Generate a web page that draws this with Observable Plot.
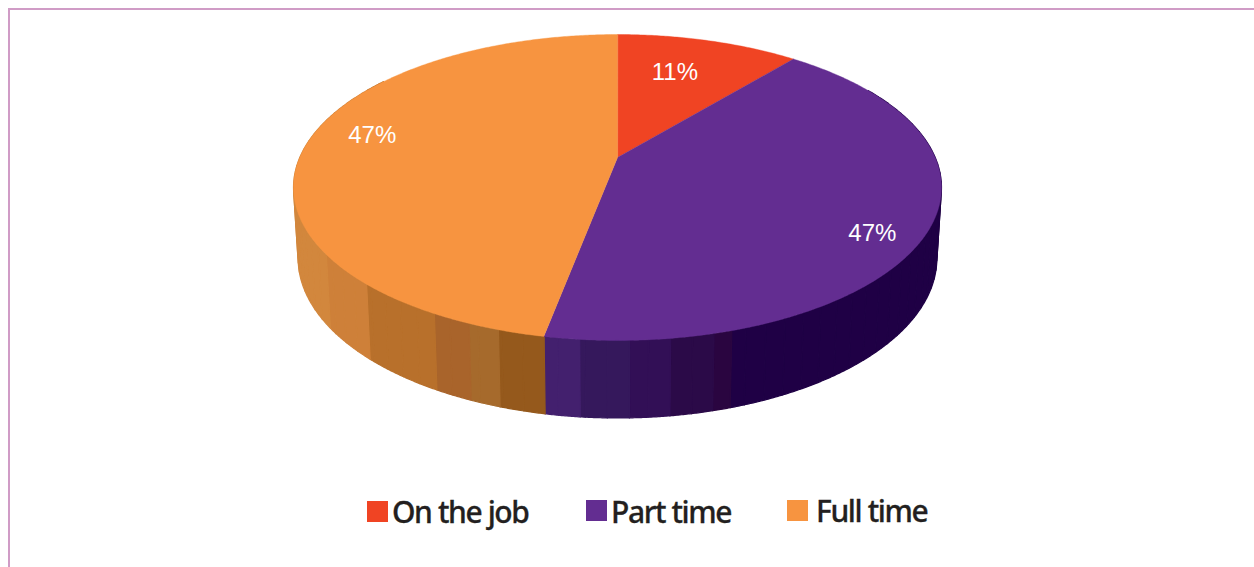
<!DOCTYPE html>
<html>
<head>
<meta charset="utf-8">
<script src="https://cdn.jsdelivr.net/npm/d3@7"></script>
<script src="https://cdn.jsdelivr.net/npm/@observablehq/plot@0.6"></script>
<style>
html,body{margin:0;padding:0;background:#fff}
#page{position:relative;width:1254px;height:567px;overflow:hidden;background:#fff}
#frame{position:absolute;left:8px;top:8px;width:1300px;height:600px;border-left:2px solid #d09cc6;border-top:2px solid #d09cc6}
#chart{position:absolute;left:0;top:0}
#legend{position:absolute;left:0;top:480px;width:1254px;height:87px;font-family:"Noto Sans",sans-serif;font-weight:500;font-size:30px;letter-spacing:-1.4px;color:#231f20;-webkit-text-stroke:.3px #231f20}
.swatch{position:absolute;width:21px;height:21px}
.name{position:absolute;white-space:nowrap;line-height:40px}
</style>
</head>
<body>
<div id="page"><div id="frame"></div><div id="chart"></div><div id="legend"></div></div>
<script>
// Data
const categories = ["On the job", "Part time", "Full time"];
const sliceValues = [11, 42, 47];
const sliceLabels = ["11%", "47%", "47%"];
const topColors = ["#f04423", "#632d91", "#f79440"];

// Shading of the rim, left to right
const rimEdges = [330, 370, 437, 472, 500, 545, 580, 630, 670, 713, 730];
const rimShades = ["#d2873d", "#ce8039", "#b8702b", "#a9642b", "#a66a2c", "#95591c",
                   "#43206e", "#35185c", "#320f56", "#2b0a48", "#2a0540", "#1f0045"];

// Perspective model of the disc
const W = 1254, H = 480, cx = 617, q = 0.196;
const lid = {vy: 157, A: 147.1, B: 317.7};
const base = {vy: 226.2, A: 153.8, B: 313.2};
const project = (disc, a, r = 1) => {
  const w = 1 + q * r * Math.cos(a);
  return {x: cx + disc.B * r * Math.sin(a) / w, y: disc.vy - disc.A * r * Math.cos(a) / w};
};
const rad = d => d * Math.PI / 180;
const total = d3.sum(sliceValues);
let acc = 0;
const slices = sliceValues.map((v, i) => {
  const a0 = acc / total * 2 * Math.PI; acc += v;
  return {i, name: categories[i], a0, a1: acc / total * 2 * Math.PI, label: sliceLabels[i]};
});

const lidPoints = slices.flatMap(s => {
  const n = Math.ceil((s.a1 - s.a0) / rad(0.5));
  const pts = [{s: s.name, x: cx, y: lid.vy, fill: topColors[s.i]}];
  for (let k = 0; k <= n; k++) {
    const p = project(lid, s.a0 + (s.a1 - s.a0) * k / n);
    pts.push({s: s.name, x: p.x, y: p.y, fill: topColors[s.i]});
  }
  return pts;
});

// Rim: short polygons between the lid and the base outline, shaded in bands
const shade = d3.scaleThreshold().domain(rimEdges).range(rimShades);
const bands = [];
d3.range(60, 305.25, 0.25).forEach(d => {
  const fill = shade(project(base, rad(d)).x);
  const lastBand = bands[bands.length - 1];
  if (lastBand && lastBand.fill === fill && lastBand.degrees.length < 13) lastBand.degrees.push(d);
  else {
    if (lastBand) lastBand.degrees.push(d);
    bands.push({fill, degrees: [d]});
  }
});
const rimPoints = bands.flatMap((b, j) => [
  ...b.degrees.map(d => ({strip: j, fill: b.fill, ...project(lid, rad(d))})),
  ...b.degrees.slice().reverse().map(d => ({strip: j, fill: b.fill, ...project(base, rad(d))}))
]);

const labelNudge = [[-16, 9], [15, 24], [-2, -12]];
const labelRows = slices.map(s => {
  const p = project(lid, (s.a0 + s.a1) / 2, 0.78);
  return {x: p.x + labelNudge[s.i][0], y: p.y + labelNudge[s.i][1], text: s.label};
});

const chart = Plot.plot({
  width: W, height: H, margin: 0,
  style: {background: "transparent"},
  x: {domain: [0, W], range: [0, W], axis: null},
  y: {domain: [0, H], range: [0, H], axis: null},
  marks: [
    Plot.line(rimPoints, {x: "x", y: "y", z: "strip", fill: "fill", stroke: "fill", strokeWidth: 1.2, curve: "linear-closed"}),
    Plot.line(lidPoints, {x: "x", y: "y", z: "s", fill: "fill", stroke: "fill", strokeWidth: 0.4, curve: "linear-closed"}),
    Plot.text(labelRows, {x: "x", y: "y", text: "text", fill: "#fff", fontSize: 24, fontFamily: "Liberation Sans"})
  ]
});
document.getElementById("chart").appendChild(chart);

const swatchX = [367, 586, 787], swatchY = [21, 20, 20];
const nameX = [392, 611, 816], nameY = [12, 12, 11];
const legend = document.getElementById("legend");
categories.forEach((c, i) => {
  const sw = document.createElement("div");
  sw.className = "swatch";
  sw.style.cssText = `left:${swatchX[i]}px;top:${swatchY[i]}px;background:${topColors[i]}`;
  const nm = document.createElement("div");
  nm.className = "name";
  nm.style.cssText = `left:${nameX[i]}px;top:${nameY[i]}px`;
  nm.textContent = c;
  legend.append(sw, nm);
});
</script>
</body>
</html>
